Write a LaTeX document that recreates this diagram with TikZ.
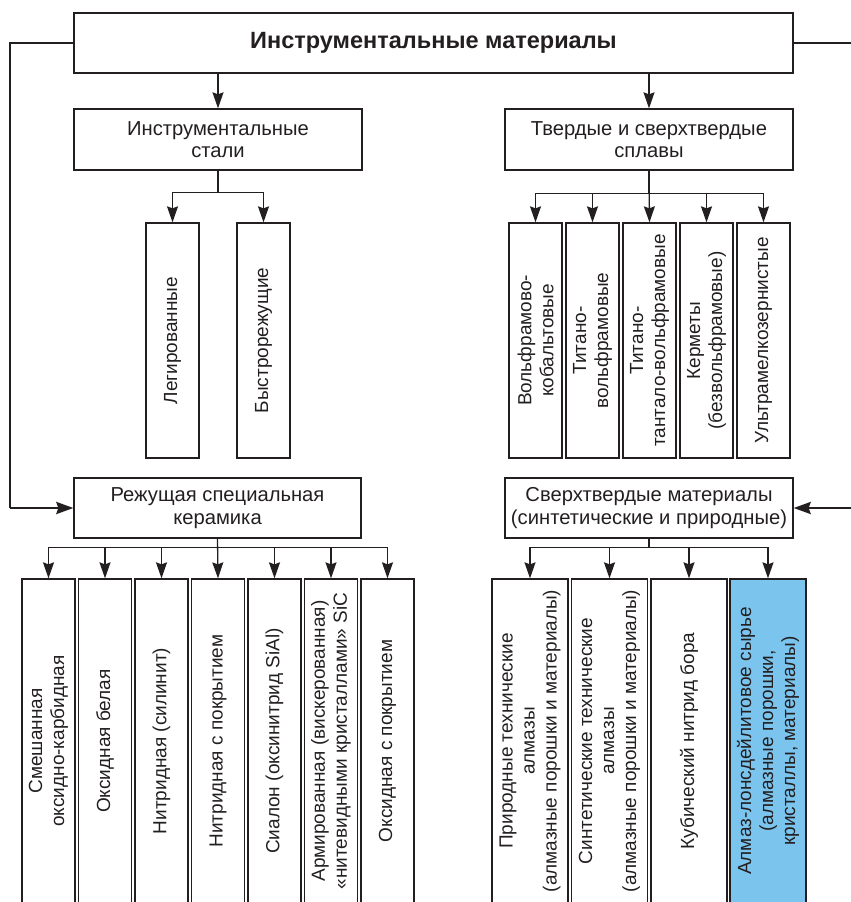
\documentclass[tikz,border=0pt]{standalone}
\usepackage{fontspec}
\setmainfont{Liberation Sans}
\usetikzlibrary{arrows.meta}
\definecolor{lblue}{RGB}{122,196,238}
\definecolor{ink}{RGB}{35,31,32}
\begin{document}
\begin{tikzpicture}[x=1pt,y=-1pt,
  box/.style={draw=ink, line width=1.3pt, inner sep=0pt, align=center,
    font=\fontsize{20.2}{22.5}\selectfont, text=ink},
  hbox/.style={box, minimum width=288pt, minimum height=61pt},
  tallbox/.style={box, minimum width=53pt, minimum height=235pt},
  lowbox/.style={box, minimum width=53pt, minimum height=324pt},
  widebox/.style={box, minimum width=76pt, minimum height=324pt},
  vtxt/.style={rotate=90, align=center, inner sep=0pt,
    font=\fontsize{19}{22}\selectfont, text=ink},
  arr/.style={draw=ink, line width=1.3pt, -{Stealth[length=16pt,width=11pt,inset=2pt]}},
  outer/.style={draw=ink, line width=2pt},
  outerarr/.style={draw=ink, line width=2.5pt, -{Stealth[length=17pt,width=12pt,inset=2pt]}}
]
\useasboundingbox (0,0) rectangle (851,902);

% top
\node[box, line width=2pt, minimum width=719pt, minimum height=60pt,
  font=\bfseries\fontsize{23.5}{27}\selectfont] (top) at (433.5,42.5) {Инструментальные материалы};

% second level
\node[hbox] (stali) at (218,139.5) {Инструментальные\\стали};
\node[hbox] (tverd) at (649,139.5) {Твердые и сверхтвердые\\сплавы};

% steels
\node[tallbox] (leg) at (172.5,340.5) {};
\node[vtxt] (tleg) at (leg) {Легированные};
\node[tallbox] (bys) at (263.5,340.5) {};
\node[vtxt] (tbys) at (bys) {Быстрорежущие};

% hard alloys
\node[tallbox] (h1) at (535.5,340.5) {};
\node[vtxt] (th1) at (h1) {Вольфрамово-\\кобальтовые};
\node[tallbox] (h2) at (592.5,340.5) {};
\node[vtxt] (th2) at (h2) {Титано-\\вольфрамовые};
\node[tallbox] (h3) at (649.5,340.5) {};
\node[vtxt] (th3) at (h3) {Титано-\\тантало-вольфрамовые};
\node[tallbox] (h4) at (706.5,340.5) {};
\node[vtxt] (th4) at (h4) {Керметы\\(безвольфрамовые)};
\node[tallbox] (h5) at (763.5,340.5) {};
\node[vtxt] (th5) at (h5) {Ультрамелкозернистые};

% third level
\node[hbox, minimum width=287pt, minimum height=60pt] (rezh) at (217.5,508) {Режущая специальная\\керамика};
\node[hbox, minimum width=288pt, minimum height=60pt] (sverh) at (649,508) {Сверхтвердые материалы\\(синтетические и природные)};

% ceramics
\node[lowbox] (c1) at (48.5,741) {};
\node[vtxt] (tc1) at (c1) {Смешанная\\оксидно-карбидная};
\node[lowbox] (c2) at (105,741) {};
\node[vtxt] (tc2) at (c2) {Оксидная белая};
\node[lowbox] (c3) at (161.5,741) {};
\node[vtxt] (tc3) at (c3) {Нитридная (силинит)};
\node[lowbox] (c4) at (218,741) {};
\node[vtxt] (tc4) at (c4) {Нитридная с покрытием};
\node[lowbox] (c5) at (274.5,741) {};
\node[vtxt] (tc5) at (c5) {Сиалон (оксинитрид SiAl)};
\node[lowbox] (c6) at (331,741) {};
\node[vtxt] (tc6) at (c6) {Армированная (вискерованная)\\«нитевидными кристаллами» SiC};
\node[lowbox] (c7) at (387.5,741) {};
\node[vtxt] (tc7) at (c7) {Оксидная с покрытием};

% superhard
\node[widebox] (s1) at (530,741) {};
\node[vtxt] (ts1) at (s1) {Природные технические\\алмазы\\(алмазные порошки и материалы)};
\node[widebox] (s2) at (609.5,741) {};
\node[vtxt] (ts2) at (s2) {Синтетические технические\\алмазы\\(алмазные порошки и материалы)};
\node[widebox] (s3) at (689,741) {};
\node[vtxt] (ts3) at (s3) {Кубический нитрид бора};
\node[widebox, fill=lblue] (s4) at (768,741) {};
\node[vtxt] (ts4) at (s4) {Алмаз-лонсдейлитовое сырье\\(алмазные порошки,\\кристаллы, материалы)};

% connectors
\draw[arr] (stali.north |- top.south) -- (stali.north);
\draw[arr] (tverd.north |- top.south) -- (tverd.north);

\coordinate (L) at (9.5,508);
\coordinate (R) at (854,508);
\draw[outer] (top.west) -| (L);
\draw[outerarr] (L) -- (rezh.west);
\draw[outer] (top.east) -| (R);
\draw[outerarr] (R) -- (sverh.east);

\foreach \n in {leg,bys}
  \draw[arr] (stali.south) -- ++(0,22) -| (\n.north);
\foreach \n in {h1,h2,h4,h5}
  \draw[arr] (tverd.south) -- ++(0,23) -| (\n.north);
\draw[arr] (tverd.south) -- (h3.north);

\foreach \n in {c1,c2,c3,c5,c6,c7}
  \draw[arr] (rezh.south) -- ++(0,9) -| (\n.north);
\draw[arr] (rezh.south) -- (c4.north);

\foreach \n in {s1,s2,s3,s4}
  \draw[arr] (sverh.south) -- ++(0,9) -| (\n.north);
\end{tikzpicture}
\end{document}
